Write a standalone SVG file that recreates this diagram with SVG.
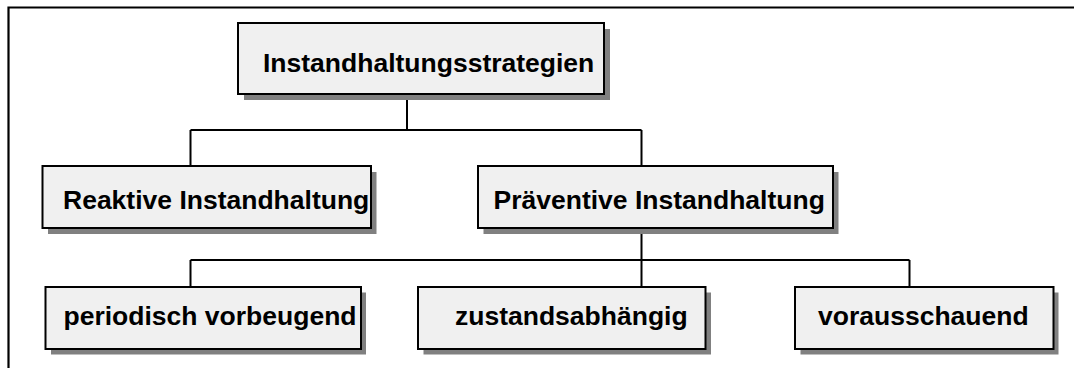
<svg xmlns="http://www.w3.org/2000/svg" width="1074" height="368" viewBox="0 0 1074 368">
  <style>
    .shadow { fill: #808080; }
    .box { fill: #f0f0f0; stroke: #000; stroke-width: 2; }
    .label { font-family: "Liberation Sans", Arial, sans-serif; font-weight: bold; font-size: 26.5px; fill: #000; }
    .wire { fill: none; stroke: #000; stroke-width: 2; }
    .frame { fill: none; stroke: #000; stroke-width: 2.2; }
  </style>
  <rect width="1074" height="368" fill="#fff"/>
  <!-- outer frame (open at right and bottom) -->
  <path class="frame" d="M8.5,370 V7.5 H1076"/>

  <g id="connectors">
    <path class="wire" d="M407,94 V130 M190.5,130 H641.5 M190.5,130 V166 M641.5,130 V166"/>
    <path class="wire" d="M641.5,228 V260 M190.5,260 H909.5 M190.5,260 V287 M641.5,260 V287 M909.5,260 V287"/>
  </g>

  <g id="node-strategien">
    <rect class="shadow" x="244" y="29" width="366" height="71"/>
    <rect class="box" x="238" y="23" width="366" height="71"/>
    <text class="label" x="263" y="71.5">Instandhaltungsstrategien</text>
  </g>

  <g id="node-reaktiv">
    <rect class="shadow" x="48" y="172" width="328.5" height="62"/>
    <rect class="box" x="42.5" y="166" width="328.5" height="62"/>
    <text class="label" x="63" y="208.5">Reaktive Instandhaltung</text>
  </g>

  <g id="node-praeventiv">
    <rect class="shadow" x="483.5" y="172" width="355" height="62"/>
    <rect class="box" x="478" y="166" width="355" height="62"/>
    <text class="label" x="493.5" y="208.5">Präventive Instandhaltung</text>
  </g>

  <g id="node-periodisch">
    <rect class="shadow" x="51" y="292.5" width="315" height="62"/>
    <rect class="box" x="45.5" y="287" width="315.5" height="62"/>
    <text class="label" x="63.5" y="324.5">periodisch vorbeugend</text>
  </g>

  <g id="node-zustand">
    <rect class="shadow" x="423.5" y="292.5" width="287.5" height="62"/>
    <rect class="box" x="418" y="287" width="287.5" height="62"/>
    <text class="label" x="455" y="324.5">zustandsabhängig</text>
  </g>

  <g id="node-voraus">
    <rect class="shadow" x="800.5" y="292.5" width="258" height="62"/>
    <rect class="box" x="795" y="287" width="258.5" height="62"/>
    <text class="label" x="818" y="324.5">vorausschauend</text>
  </g>
</svg>
